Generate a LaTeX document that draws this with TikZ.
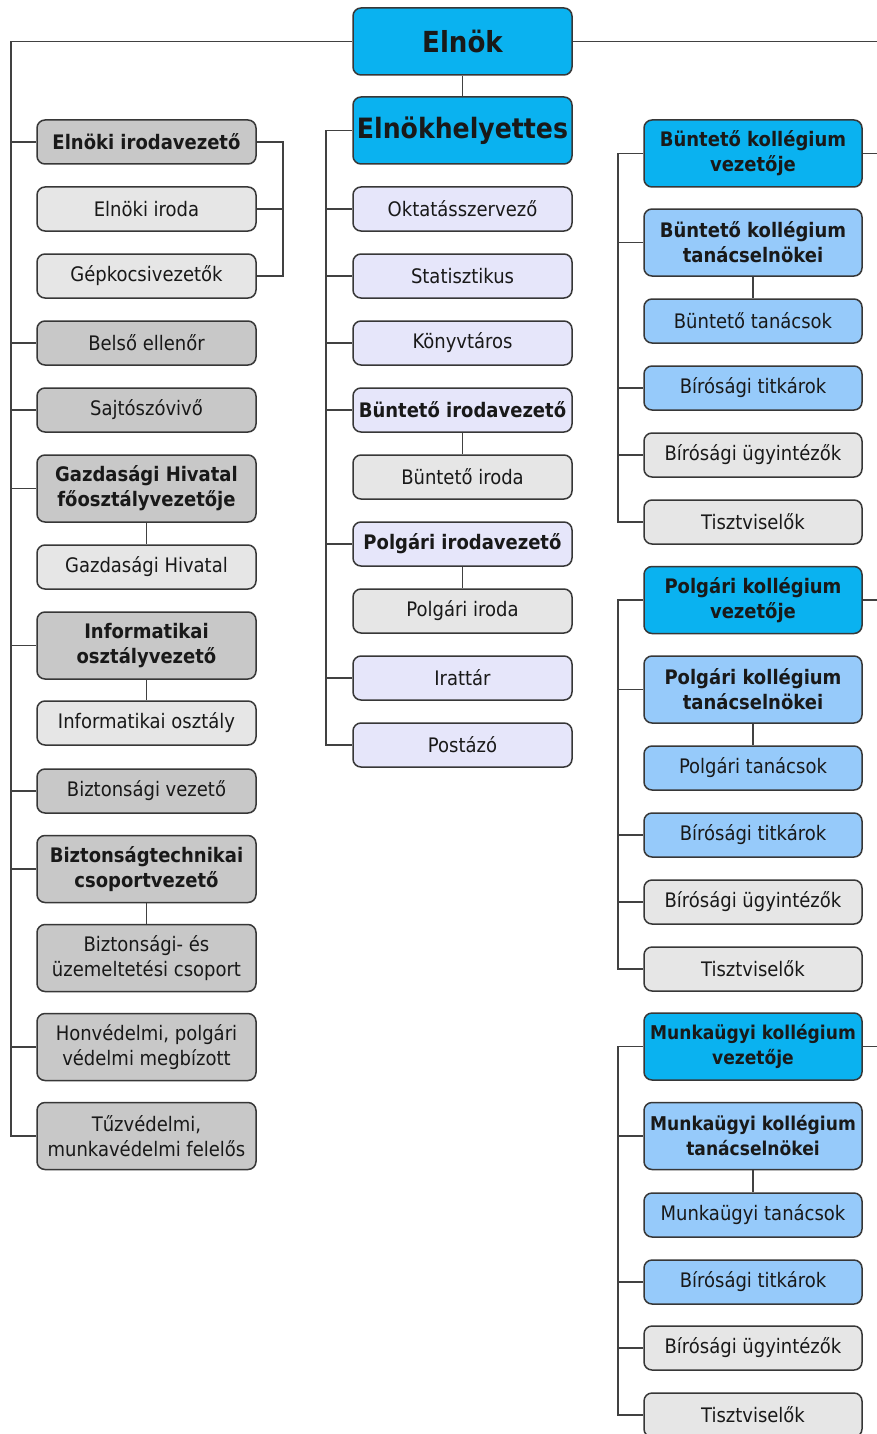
\documentclass[tikz,border=0pt]{standalone}
\usepackage{fontspec}
\setmainfont{DejaVu Sans Condensed}
\begin{document}
\begin{tikzpicture}[x=1pt,y=-1pt,
  box/.style={draw=bordc, line width=1.5pt, rounded corners=8pt, align=center,
    inner sep=0pt, text=txtc, font=\fontsize{20}{25}\selectfont},
  lbox/.style={box, minimum width=219pt},
  rbox/.style={box, minimum width=218pt},
  one/.style={minimum height=44pt},
  two/.style={minimum height=67pt},
  bf/.style={font=\fontsize{20}{25}\selectfont\bfseries},
  bfs/.style={font=\fontsize{19}{25}\selectfont\bfseries},
  top/.style={box, minimum width=219pt, minimum height=67pt, fill=cyanc},
  link/.style={draw=linec, line width=1.5pt}]
\definecolor{bordc}{RGB}{55,55,55}
\definecolor{linec}{RGB}{65,65,65}
\definecolor{txtc}{RGB}{25,25,25}
\definecolor{cyanc}{RGB}{10,178,240}
\definecolor{lblue}{RGB}{150,202,250}
\definecolor{dgray}{RGB}{200,200,200}
\definecolor{lgray}{RGB}{230,230,230}
\definecolor{lav}{RGB}{230,230,250}
\useasboundingbox (0,0) rectangle (877,1434);
\clip (0,0) rectangle (877,1434);
\fill[white] (0,0) rectangle (877,1434);

% top
\node[top, font=\fontsize{29}{32}\selectfont\bfseries] (elnok) at (462.5,41.5) {Elnök};
\node[top, font=\fontsize{28}{32}\selectfont\bfseries] (helyettes) at (462.5,130.5) {Elnökhelyettes};

% left column
\node[lbox,one,bf,fill=dgray] (eiv) at (146.5,142) {Elnöki irodavezető};
\node[lbox,one,fill=lgray] (eiroda) at (146.5,209) {Elnöki iroda};
\node[lbox,one,fill=lgray] (gepk) at (146.5,276) {Gépkocsivezetők};
\node[lbox,one,fill=dgray] (belso) at (146.5,343) {Belső ellenőr};
\node[lbox,one,fill=dgray] (sajto) at (146.5,410) {Sajtószóvivő};
\node[lbox,two,bf,fill=dgray] (gazdv) at (146.5,488.5) {Gazdasági Hivatal\\főosztályvezetője};
\node[lbox,one,fill=lgray] (gazd) at (146.5,567) {Gazdasági Hivatal};
\node[lbox,two,bf,fill=dgray] (infv) at (146.5,645.5) {Informatikai\\osztályvezető};
\node[lbox,one,fill=lgray] (inf) at (146.5,723) {Informatikai osztály};
\node[lbox,one,fill=dgray] (bizv) at (146.5,791) {Biztonsági vezető};
\node[lbox,two,bf,fill=dgray] (biztech) at (146.5,869) {Biztonságtechnikai\\csoportvezető};
\node[lbox,two,fill=dgray] (bizuz) at (146.5,958) {Biztonsági- és\\üzemeltetési csoport};
\node[lbox,two,fill=dgray] (honv) at (146.5,1047) {Honvédelmi, polgári\\védelmi megbízott};
\node[lbox,two,fill=dgray] (tuz) at (146.5,1136) {Tűzvédelmi,\\munkavédelmi felelős};

% center column
\node[lbox,one,fill=lav] (okt) at (462.5,209) {Oktatásszervező};
\node[lbox,one,fill=lav] (stat) at (462.5,276) {Statisztikus};
\node[lbox,one,fill=lav] (konyv) at (462.5,343) {Könyvtáros};
\node[lbox,one,bf,fill=lav] (bunv) at (462.5,410) {Büntető irodavezető};
\node[lbox,one,fill=lgray] (buni) at (462.5,477) {Büntető iroda};
\node[lbox,one,bf,fill=lav] (polv) at (462.5,544) {Polgári irodavezető};
\node[lbox,one,fill=lgray] (poli) at (462.5,611) {Polgári iroda};
\node[lbox,one,fill=lav] (irat) at (462.5,678) {Irattár};
\node[lbox,one,fill=lav] (posta) at (462.5,745) {Postázó};

% right column: Büntető
\node[rbox,two,bf,fill=cyanc] (bkv) at (753,153.5) {Büntető kollégium\\vezetője};
\node[rbox,two,bf,fill=lblue] (bkt) at (753,242.5) {Büntető kollégium\\tanácselnökei};
\node[rbox,one,fill=lblue] (btan) at (753,321) {Büntető tanácsok};
\node[rbox,one,fill=lblue] (btit) at (753,388) {Bírósági titkárok};
\node[rbox,one,fill=lgray] (bugy) at (753,455) {Bírósági ügyintézők};
\node[rbox,one,fill=lgray] (btiszt) at (753,522) {Tisztviselők};
% Polgári
\node[rbox,two,bf,fill=cyanc] (pkv) at (753,600) {Polgári kollégium\\vezetője};
\node[rbox,two,bf,fill=lblue] (pkt) at (753,689.5) {Polgári kollégium\\tanácselnökei};
\node[rbox,one,fill=lblue] (ptan) at (753,768) {Polgári tanácsok};
\node[rbox,one,fill=lblue] (ptit) at (753,835) {Bírósági titkárok};
\node[rbox,one,fill=lgray] (pugy) at (753,902) {Bírósági ügyintézők};
\node[rbox,one,fill=lgray] (ptiszt) at (753,969) {Tisztviselők};
% Munkaügyi
\node[rbox,two,bfs,fill=cyanc] (mkv) at (753,1046.5) {Munkaügyi kollégium\\vezetője};
\node[rbox,two,bfs,fill=lblue] (mkt) at (753,1136) {Munkaügyi kollégium\\tanácselnökei};
\node[rbox,one,fill=lblue] (mtan) at (753,1215) {Munkaügyi tanácsok};
\node[rbox,one,fill=lblue] (mtit) at (753,1282) {Bírósági titkárok};
\node[rbox,one,fill=lgray] (mugy) at (753,1348) {Bírósági ügyintézők};
\node[rbox,one,fill=lgray] (mtiszt) at (753,1415) {Tisztviselők};

% spine coordinates
\coordinate (L) at (11,41.5);
\coordinate (R) at (880,41.5);
\coordinate (B) at (283,142);
\coordinate (C) at (326,130.5);
\coordinate (K) at (618,153.5);

% top connectors
\draw[link] (elnok.west) -- (L) |- (tuz.west);
\draw[link] (elnok.east) -- (R) -- (R |- mkv.east);
\draw[link] (elnok.south) -- (helyettes.north);

% left column links
\foreach \n in {eiv,belso,sajto,gazdv,infv,bizv,biztech,honv}
  \draw[link] (L |- \n.west) -- (\n.west);
\draw[link] (eiv.east) -- (B) |- (gepk.east);
\draw[link] (B |- eiroda.east) -- (eiroda.east);
\draw[link] (gazdv.south) -- (gazd.north);
\draw[link] (infv.south) -- (inf.north);
\draw[link] (biztech.south) -- (bizuz.north);

% center links
\draw[link] (helyettes.west) -- (C) |- (posta.west);
\foreach \n in {okt,stat,konyv,bunv,polv,irat}
  \draw[link] (C |- \n.west) -- (\n.west);
\draw[link] (bunv.south) -- (buni.north);
\draw[link] (polv.south) -- (poli.north);

% right links
\foreach \v/\t/\s/\a/\b/\c in {bkv/bkt/btan/btit/bugy/btiszt, pkv/pkt/ptan/ptit/pugy/ptiszt, mkv/mkt/mtan/mtit/mugy/mtiszt} {
  \draw[link] (\v.east) -- (R |- \v.east);
  \draw[link] (\v.west) -- (K |- \v.west) |- (\c.west);
  \foreach \n in {\t,\a,\b}
    \draw[link] (K |- \n.west) -- (\n.west);
  \draw[link] (\t.south) -- (\s.north);
}
\end{tikzpicture}
\end{document}
